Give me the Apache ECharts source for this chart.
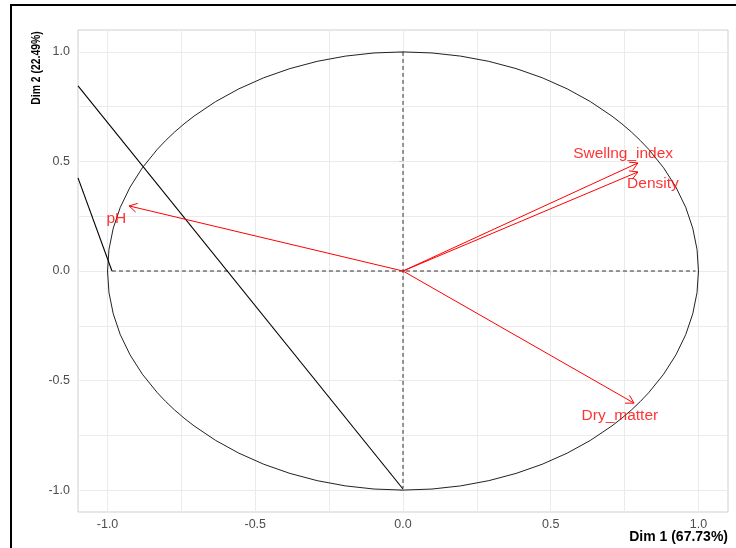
<!DOCTYPE html>
<html><head><meta charset="utf-8">
<script src="https://cdn.jsdelivr.net/npm/echarts@6/dist/echarts.min.js"></script>
<style>html,body{margin:0;padding:0;background:#fff}#c{width:736px;height:548px}</style>
</head><body><div id="c"></div>
<script>
// ---- data ----
const variables = ['pH', 'Swellng_index', 'Density', 'Dry_matter'];
const dim1 = [-0.927, 0.795, 0.795, 0.782];
const dim2 = [0.297, 0.493, 0.452, -0.603];
const labelX = [-0.97, 0.745, 0.846, 0.734];
const labelY = [0.237, 0.534, 0.397, -0.662];
const tickValues = [-1, -0.5, 0, 0.5, 1];
const tickLabels = ['-1.0', '-0.5', '0.0', '0.5', '1.0'];
const gridValues = [-1, -0.75, -0.5, -0.25, 0, 0.25, 0.5, 0.75, 1];
const axisRange = [-1.1, 1.1];
const circleRadius = [1];
const dashedH = [[-0.985, 0], [0.99, 0]];
const dashedV = [[0, 1], [0, -0.99]];
const solidA = [[-1.1, 0.845], [0, -0.995]];
const solidB = [[-1.1, 0.425], [-0.985, 0]];
const xTitle = 'Dim 1 (67.73%)';
const yTitle = 'Dim 2 (22.49%)';

const fmt = v => { const i = tickValues.indexOf(v); return i >= 0 ? tickLabels[i] : ''; };
const labelStyle = { color: '#4d4d4d', fontSize: 12.5, fontFamily: "'Liberation Sans', Arial, sans-serif" };

const chart = echarts.init(document.getElementById('c'));
chart.setOption({
  animation: false,
  backgroundColor: '#fff',
  grid: { left: 78, top: 30, right: 8, bottom: 36, show: true, borderColor: '#cfcfcf', borderWidth: 1, backgroundColor: 'transparent' },
  xAxis: [
    { type: 'value', min: axisRange[0], max: axisRange[1], position: 'bottom',
      axisLine: { show: false }, axisLabel: { show: false },
      axisTick: { show: false, customValues: gridValues },
      splitLine: { show: true, lineStyle: { color: '#ebebeb', width: 1 } } },
    { type: 'value', min: axisRange[0], max: axisRange[1], position: 'bottom',
      axisLine: { show: false },
      axisTick: { show: true, length: 4, customValues: tickValues, lineStyle: { color: '#cfcfcf' } },
      axisLabel: Object.assign({ customValues: tickValues, formatter: fmt, margin: 6 }, labelStyle),
      splitLine: { show: false } }
  ],
  yAxis: [
    { type: 'value', min: axisRange[0], max: axisRange[1], position: 'left',
      axisLine: { show: false }, axisLabel: { show: false },
      axisTick: { show: false, customValues: gridValues },
      splitLine: { show: true, lineStyle: { color: '#ebebeb', width: 1 } } },
    { type: 'value', min: axisRange[0], max: axisRange[1], position: 'left',
      axisLine: { show: false },
      axisTick: { show: true, length: 4, customValues: tickValues, lineStyle: { color: '#cfcfcf' } },
      axisLabel: Object.assign({ customValues: tickValues, formatter: fmt, margin: 8 }, labelStyle),
      splitLine: { show: false } }
  ],
  graphic: [
    { type: 'rect', x: 11, y: 5, shape: { x: 0, y: 0, width: 800, height: 600 }, style: { fill: 'none', stroke: '#000', lineWidth: 2 }, silent: true },
    { type: 'text', x: 728, y: 537, style: { text: xTitle, align: 'right', verticalAlign: 'middle', fill: '#000', fontWeight: 'bold', fontSize: 14, fontFamily: "'Liberation Sans', Arial, sans-serif" } },
    { type: 'text', x: 36, y: 68, rotation: Math.PI / 2, scaleX: 0.8, style: { text: yTitle, align: 'center', verticalAlign: 'middle', fill: '#000', fontWeight: 'bold', fontSize: 13, fontFamily: "'Liberation Sans', Arial, sans-serif" } }
  ],
  series: [
    { type: 'line', data: dashedH, symbol: 'none', lineStyle: { color: '#333', width: 1, type: [4, 3] }, z: 2 },
    { type: 'line', data: dashedV, symbol: 'none', lineStyle: { color: '#333', width: 1, type: [4, 3] }, z: 2 },
    { type: 'line', data: solidA, symbol: 'none', lineStyle: { color: '#000', width: 1.1 }, z: 3 },
    { type: 'line', data: solidB, symbol: 'none', lineStyle: { color: '#000', width: 1.1 }, z: 3 },
    { type: 'custom', z: 3, clip: false,
      data: circleRadius.map(r => [0, 0, r]),
      renderItem: (params, api) => {
        const r = api.value(2);
        const c = api.coord([0, 0]);
        const px = api.coord([r, 0]);
        const py = api.coord([0, r]);
        const rx = px[0] - c[0], ry = c[1] - py[1];
        return { type: 'circle', x: c[0], y: c[1], scaleY: ry / rx,
          shape: { cx: 0, cy: 0, r: rx },
          style: { fill: 'none', stroke: '#000', lineWidth: 1, strokeNoScale: true } };
      } },
    { type: 'custom', z: 4,
      data: dim1.map((x, i) => [x, dim2[i]]),
      encode: { x: 0, y: 1 },
      renderItem: (params, api) => {
        const o = api.coord([0, 0]);
        const t = api.coord([api.value(0), api.value(1)]);
        const ang = Math.atan2(t[1] - o[1], t[0] - o[0]);
        const L = 9, a = Math.PI / 6;
        const h1 = [t[0] - L * Math.cos(ang - a), t[1] - L * Math.sin(ang - a)];
        const h2 = [t[0] - L * Math.cos(ang + a), t[1] - L * Math.sin(ang + a)];
        const st = { stroke: '#ff0000', lineWidth: 1, fill: 'none' };
        return { type: 'group', children: [
          { type: 'line', shape: { x1: o[0], y1: o[1], x2: t[0], y2: t[1] }, style: st },
          { type: 'polyline', shape: { points: [h1, t, h2] }, style: st }
        ] };
      } },
    { type: 'scatter', z: 5, symbolSize: 0,
      data: variables.map((n, i) => ({ name: n, value: [labelX[i], labelY[i]] })),
      label: { show: true, position: 'inside', formatter: p => p.name, color: '#ff0000', fontSize: 15.5, fontFamily: "'Liberation Sans', Arial, sans-serif" } }
  ]
});
</script></body></html>
